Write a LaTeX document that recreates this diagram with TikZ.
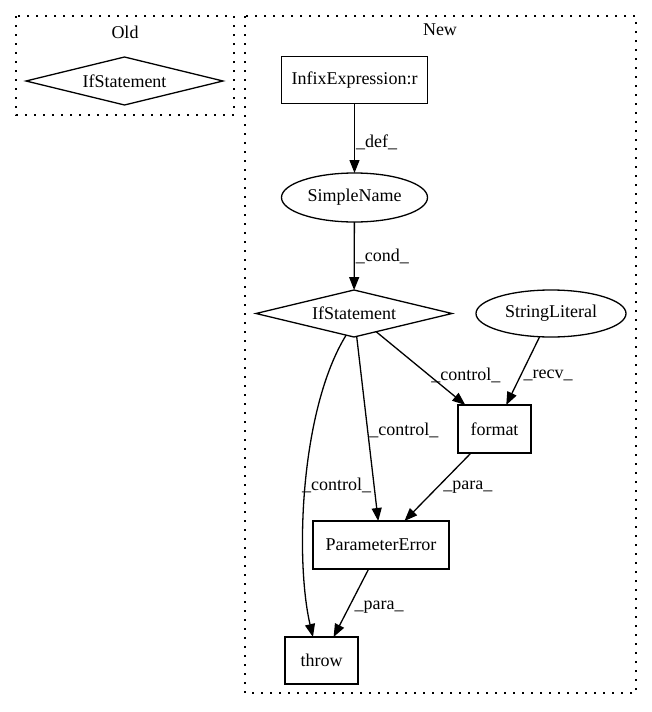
\documentclass[tikz,border=0pt]{standalone}
\usepackage{fontspec}
\setmainfont{Liberation Serif}
\usetikzlibrary{arrows.meta,shapes.geometric}

\tikzset{
	box/.style={draw,rectangle,line width=1.3pt,inner sep=0,outer sep=0},
	oval/.style={draw,ellipse,line width=1.3pt,inner sep=0,outer sep=0},
	rhomb/.style={draw,diamond,aspect=4,line width=1.3pt,inner sep=0,outer sep=0},
	cluster/.style={line width=1.4pt,dash pattern=on 1.8pt off 7.2pt},
	edge/.style={line width=1.3pt,-{Triangle[length=13pt,width=10pt]}},
	lbl/.style={anchor=west,inner sep=2pt}
}

\begin{document}
\begin{tikzpicture}[x=1pt,y=-1pt,every node/.style={font=\fontsize{18}{21}\selectfont}]
	\useasboundingbox (0,0) rectangle (652,712);
	% clusters
	\draw[cluster] (16,16) rectangle (234,115);
	\node (oldtitle) at (125,32) {Old};
	\draw[cluster] (245,16) rectangle (636,693);
	\node (newtitle) at (440,30) {New};
	% old
	\node[rhomb,minimum width=197,minimum height=48] (oldif) at (124.5,81) {IfStatement};
	% new
	\node[box,minimum width=146,minimum height=47] (infix) at (354.5,80) {InfixExpression:r};
	\node[oval,minimum width=146,minimum height=49] (name) at (354.5,197.5) {SimpleName};
	\node[rhomb,minimum width=196,minimum height=47] (newif) at (354,313.5) {IfStatement};
	\node[oval,minimum width=150,minimum height=47] (strlit) at (551,313.5) {StringLiteral};
	\node[box,minimum width=73,minimum height=48] (fmt) at (494.5,429) {format};
	\node[box,minimum width=136,minimum height=48] (perr) at (381,545) {ParameterError};
	\node[box,minimum width=73,minimum height=47] (throw) at (321.5,660.5) {throw};
	% edges
	\draw[edge] (infix) -- node[lbl,pos=0.56,inner sep=1pt] {\_def\_} (name);
	\draw[edge] (name) -- node[lbl,pos=0.5,inner sep=1pt] {\_cond\_} (newif);
	\draw[edge] (newif) -- node[lbl,pos=0.59] {\_control\_} (fmt);
	\draw[edge] (strlit) -- node[lbl,pos=0.56] {\_recv\_} (fmt);
	\draw[edge] (newif) -- node[lbl,pos=0.51,inner sep=1pt] {\_control\_} (perr);
	\draw[edge] (newif.-110) .. controls (300,410) and (295,560) .. node[lbl,pos=0.5,xshift=-6pt] {\_control\_} (throw.110);
	\draw[edge] (fmt) -- node[lbl,pos=0.5,xshift=3pt] {\_para\_} (perr);
	\draw[edge] (perr) -- node[lbl,pos=0.56,xshift=3pt] {\_para\_} (throw);
\end{tikzpicture}
\end{document}
